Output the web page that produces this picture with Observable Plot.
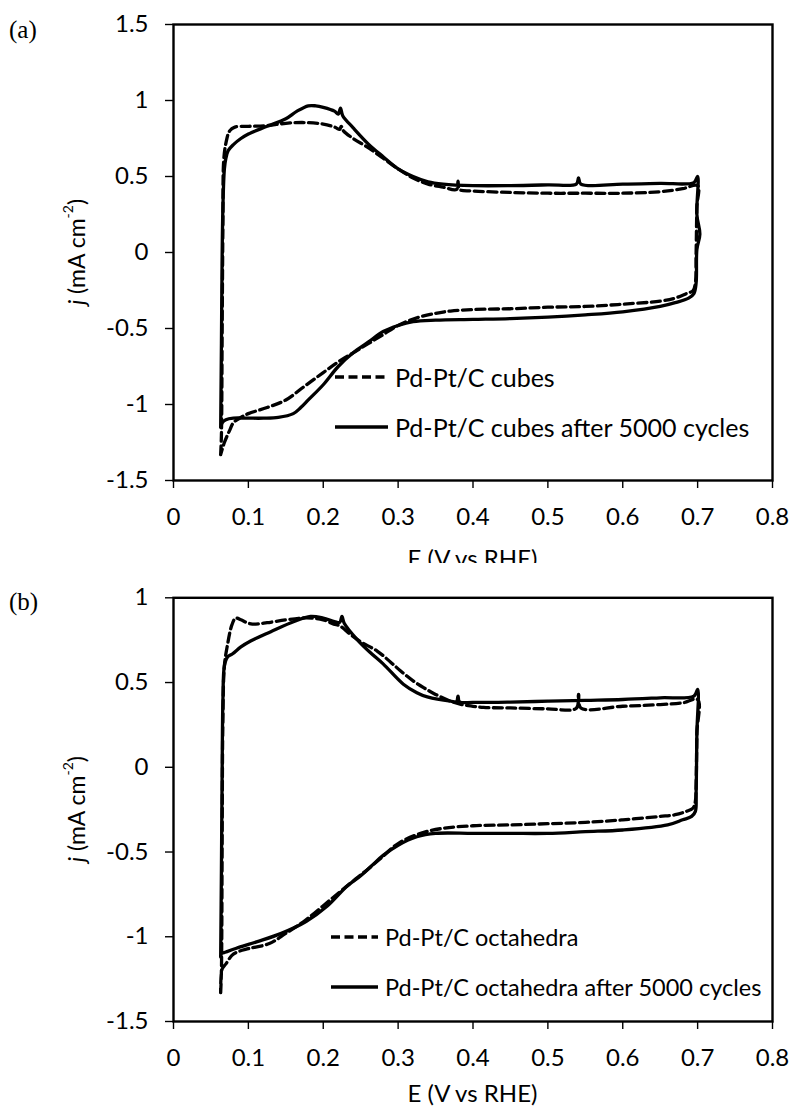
<!DOCTYPE html>
<html><head><meta charset="utf-8">
<script src="https://cdn.jsdelivr.net/npm/d3@7"></script>
<script src="https://cdn.jsdelivr.net/npm/@observablehq/plot@0.6"></script>
<style>
body{margin:0;background:#fff;}
#wrap{width:794px;height:1106px;overflow:hidden;}
#wrap svg{display:block;}
</style></head><body><div id="wrap"></div>
<script>
// ---- tick values ----
const xTicks = [0, 0.1, 0.2, 0.3, 0.4, 0.5, 0.6, 0.7, 0.8];
const yTicksA = [-1.5, -1, -0.5, 0, 0.5, 1, 1.5];
const yTicksB = [-1.5, -1, -0.5, 0, 0.5, 1];

// ---- series: [E (V vs RHE), j (mA cm-2)] ----
const cubesFresh = [
  [0.063,-1.33],[0.064,-1.2],[0.065,-0.5],[0.066,0.2],[0.067,0.6],[0.07,0.72],[0.075,0.8],[0.082,0.825],
  [0.1,0.83],[0.125,0.835],[0.15,0.85],[0.175,0.855],[0.2,0.845],[0.215,0.825],[0.222,0.81],[0.224,0.83],[0.227,0.8],
  [0.24,0.75],[0.26,0.69],[0.28,0.62],[0.3,0.55],[0.32,0.49],[0.34,0.45],[0.36,0.43],[0.378,0.415],[0.38,0.47],[0.382,0.415],
  [0.4,0.405],[0.45,0.395],[0.5,0.39],[0.55,0.39],[0.6,0.39],[0.65,0.4],[0.68,0.42],[0.7,0.44],
  [0.699,0.3],[0.698,0],[0.697,-0.2],[0.694,-0.25],[0.685,-0.27],[0.67,-0.3],[0.65,-0.32],[0.6,-0.34],
  [0.55,-0.355],[0.5,-0.36],[0.45,-0.37],[0.4,-0.375],[0.37,-0.385],[0.35,-0.4],[0.325,-0.43],[0.3,-0.48],
  [0.28,-0.54],[0.26,-0.6],[0.24,-0.66],[0.22,-0.72],[0.2,-0.79],[0.175,-0.88],[0.15,-0.97],[0.125,-1.02],
  [0.1,-1.06],[0.09,-1.085],[0.08,-1.12],[0.075,-1.17],[0.068,-1.25],[0.063,-1.33]
];
const cubesAged = [
  [0.063,-1.15],[0.064,-0.6],[0.065,0],[0.066,0.3],[0.068,0.55],[0.07,0.62],[0.073,0.67],[0.08,0.71],
  [0.09,0.75],[0.1,0.78],[0.125,0.83],[0.15,0.88],[0.165,0.93],[0.18,0.965],[0.19,0.965],[0.2,0.955],
  [0.215,0.93],[0.22,0.91],[0.223,0.95],[0.226,0.9],[0.24,0.82],[0.26,0.715],[0.28,0.63],[0.3,0.55],
  [0.32,0.5],[0.34,0.465],[0.36,0.45],[0.4,0.44],[0.45,0.44],[0.5,0.445],[0.538,0.45],[0.541,0.49],[0.544,0.45],
  [0.6,0.45],[0.65,0.455],[0.695,0.46],[0.7,0.5],
  [0.699,0.25],[0.703,0.12],[0.699,0.02],[0.698,-0.2],[0.695,-0.27],[0.688,-0.3],[0.67,-0.33],[0.65,-0.355],
  [0.6,-0.39],[0.55,-0.41],[0.5,-0.425],[0.45,-0.435],[0.4,-0.44],[0.35,-0.445],[0.32,-0.455],[0.3,-0.48],
  [0.28,-0.52],[0.26,-0.59],[0.24,-0.66],[0.22,-0.75],[0.2,-0.87],[0.18,-0.97],[0.17,-1.02],[0.16,-1.06],
  [0.14,-1.085],[0.12,-1.09],[0.1,-1.09],[0.08,-1.09],[0.07,-1.1],[0.065,-1.12],[0.063,-1.15]
];
const octaFresh = [
  [0.063,-1.33],[0.064,-1.2],[0.065,-0.4],[0.066,0.3],[0.068,0.6],[0.072,0.72],[0.078,0.84],[0.083,0.88],
  [0.09,0.87],[0.1,0.85],[0.11,0.845],[0.125,0.853],[0.15,0.87],[0.17,0.88],[0.185,0.88],[0.2,0.87],
  [0.214,0.845],[0.222,0.835],[0.236,0.785],[0.25,0.74],[0.272,0.686],[0.29,0.62],[0.303,0.57],[0.32,0.51],
  [0.334,0.47],[0.35,0.43],[0.37,0.39],[0.385,0.37],[0.4,0.36],[0.414,0.353],[0.45,0.35],[0.5,0.345],
  [0.538,0.348],[0.541,0.43],[0.544,0.35],[0.6,0.36],[0.65,0.37],[0.68,0.38],[0.7,0.4],
  [0.699,0.2],[0.698,-0.1],[0.697,-0.2],[0.694,-0.24],[0.685,-0.26],[0.67,-0.28],[0.65,-0.29],[0.6,-0.31],
  [0.55,-0.325],[0.5,-0.333],[0.45,-0.34],[0.4,-0.345],[0.36,-0.36],[0.33,-0.39],[0.3,-0.45],[0.276,-0.54],
  [0.26,-0.6],[0.243,-0.66],[0.21,-0.78],[0.177,-0.9],[0.15,-0.98],[0.128,-1.04],[0.1,-1.07],[0.085,-1.09],
  [0.078,-1.11],[0.07,-1.16],[0.065,-1.19],[0.063,-1.33]
];
const octaAged = [
  [0.063,-1.12],[0.064,-0.6],[0.065,0],[0.066,0.4],[0.068,0.6],[0.072,0.65],[0.079,0.67],[0.09,0.71],
  [0.103,0.745],[0.13,0.8],[0.161,0.86],[0.183,0.89],[0.2,0.88],[0.215,0.86],[0.222,0.855],[0.225,0.89],
  [0.228,0.85],[0.245,0.755],[0.262,0.68],[0.28,0.61],[0.307,0.49],[0.325,0.44],[0.339,0.415],[0.37,0.39],
  [0.378,0.388],[0.38,0.42],[0.382,0.386],[0.4,0.383],[0.45,0.385],[0.5,0.39],[0.55,0.395],[0.6,0.4],
  [0.65,0.41],[0.695,0.42],[0.7,0.46],
  [0.699,0.2],[0.698,-0.15],[0.697,-0.26],[0.692,-0.29],[0.68,-0.31],[0.66,-0.34],[0.6,-0.37],[0.55,-0.38],
  [0.5,-0.39],[0.45,-0.39],[0.4,-0.39],[0.35,-0.39],[0.325,-0.41],[0.3,-0.46],[0.28,-0.52],[0.265,-0.58],
  [0.25,-0.64],[0.232,-0.7],[0.205,-0.82],[0.177,-0.91],[0.144,-0.98],[0.111,-1.03],[0.084,-1.068],
  [0.07,-1.09],[0.064,-1.1],[0.063,-1.12]
];

// ---- texts ----
const legendA = ["Pd-Pt/C cubes", "Pd-Pt/C cubes after 5000 cycles"];
const legendB = ["Pd-Pt/C octahedra", "Pd-Pt/C octahedra after 5000 cycles"];
const panelTags = ["(a)", "(b)"];
const xLabel = "E (V vs RHE)";

const FONT = "Lato, 'Open Sans', sans-serif";
const FS = 24;
const DASH = "9,4.5";

function panel(o) {
  const svg = Plot.plot({
    width: 794, height: o.height,
    marginLeft: 173, marginRight: 22, marginTop: o.marginTop, marginBottom: o.marginBottom,
    style: {fontFamily: FONT, fontSize: FS + "px", color: "black", background: "white", overflow: "hidden"},
    x: {domain: [0, 0.8]},
    y: {domain: o.yDomain},
    marks: [
      Plot.axisX(xTicks, {tickSize: 8, tickPadding: 19, tickFormat: d => String(d), label: null, fontSize: FS, strokeWidth: 1.4}),
      Plot.axisY(o.yTicks, {tickSize: 8, tickPadding: 17, tickFormat: d => String(d), label: null, fontSize: FS, strokeWidth: 1.4}),
      Plot.frame({stroke: "black", strokeWidth: 2.4}),
      Plot.line(o.fresh, {x: d => d[0], y: d => d[1], stroke: "black", strokeWidth: 3.3, strokeDasharray: DASH, curve: "catmull-rom"}),
      Plot.line(o.aged, {x: d => d[0], y: d => d[1], stroke: "black", strokeWidth: 3.3, curve: "catmull-rom"})
    ]
  });
  const s = d3.select(svg);
  const left = 173, right = 794 - 22, top = o.marginTop, bottom = o.height - o.marginBottom;
  // panel tag
  s.append("text").attr("x", 9).attr("y", o.tagY).attr("dominant-baseline", "central").attr("text-anchor", "start")
    .attr("font-family", "'Liberation Serif', 'Times New Roman', serif").attr("font-size", 25).attr("fill", "black")
    .text(o.tag);
  // x label
  s.append("text").attr("x", (left + right) / 2).attr("y", bottom + o.xLabelOffset)
    .attr("text-anchor", "middle").attr("dominant-baseline", "central").attr("font-size", FS).attr("fill", "black")
    .text(xLabel);
  // y label
  const yl = s.append("text").attr("transform", `translate(76,${(top + bottom) / 2}) rotate(-90)`)
    .attr("text-anchor", "middle").attr("dominant-baseline", "central").attr("font-size", 23).attr("fill", "black");
  yl.append("tspan").attr("font-style", "italic").text("j");
  yl.append("tspan").text(" (mA cm");
  yl.append("tspan").attr("font-size", 14).attr("dy", -9).text("-2");
  yl.append("tspan").attr("dy", 9).text(")");
  // legend
  o.legend.forEach((lab, i) => {
    const y = o.legendY + i * 50;
    s.append("line").attr("x1", o.legendX).attr("x2", o.legendX + o.legendLen).attr("y1", y).attr("y2", y)
      .attr("stroke", "black").attr("stroke-width", 3.3).attr("stroke-dasharray", i === 0 ? DASH : null);
    s.append("text").attr("x", o.legendX + o.legendLen + 7).attr("y", y).attr("dominant-baseline", "central").attr("text-anchor", "start")
      .attr("font-size", o.legendFS).attr("fill", "black").text(lab);
  });
  return svg;
}

const wrap = document.getElementById("wrap");
wrap.appendChild(panel({
  fresh: cubesFresh, aged: cubesAged, yDomain: [-1.5, 1.5], yTicks: yTicksA,
  height: 563, marginTop: 24, marginBottom: 83, legend: legendA, legendX: 335, legendY: 377,
  legendLen: 53, legendFS: 25,
  tag: panelTags[0], tagY: 29, xLabelOffset: 77
}));
wrap.appendChild(panel({
  fresh: octaFresh, aged: octaAged, yDomain: [-1.5, 1], yTicks: yTicksB,
  height: 543, marginTop: 34.3, marginBottom: 85, legend: legendB, legendX: 331, legendY: 937 - 563,
  legendLen: 47, legendFS: 23.5,
  tag: panelTags[1], tagY: 38, xLabelOffset: 71
}));
</script></body></html>
